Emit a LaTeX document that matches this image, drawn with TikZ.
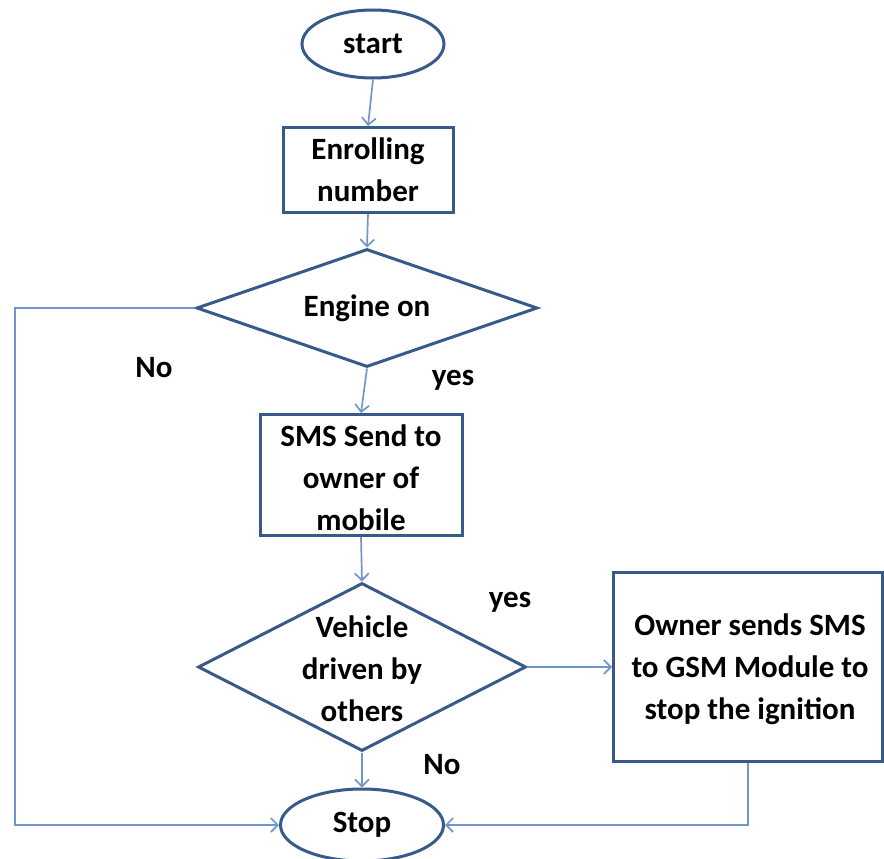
\documentclass[tikz,border=0pt]{standalone}
\usepackage{fontspec}
\setmainfont{Carlito}
\usepackage{tikz}
\usetikzlibrary{shapes.geometric, arrows.meta}
\usepackage{xcolor}

\definecolor{shapeblue}{HTML}{375A89}
\definecolor{linkblue}{HTML}{7196CB}

\begin{document}
\begin{tikzpicture}[x=1pt, y=-1pt,
	txt/.style={font=\fontsize{31}{42}\selectfont\bfseries, align=center, inner sep=0pt},
	term/.style={draw=shapeblue, line width=3pt, ellipse, inner sep=0pt},
	proc/.style={draw=shapeblue, line width=3pt, rectangle, inner sep=0pt},
	decision/.style={draw=shapeblue, line width=3pt, diamond, inner sep=0pt},
	flow/.style={draw=linkblue, line width=1.7pt, -{Straight Barb[length=7pt, width=14pt]}}]
	\useasboundingbox (0,0) rectangle (884,859);
	% terminals and boxes
	\node[term, minimum width=142pt, minimum height=68pt] (start) at (373,44) {};
	\node[txt] (start-t) at (start) {start};
	\node[proc, minimum width=170pt, minimum height=85pt] (enroll) at (368,170) {};
	\node[txt] (enroll-t) at (enroll) {Enrolling\\number};
	\node[decision, minimum width=341pt, minimum height=118pt] (engine) at (367,308) {};
	\node[txt] (engine-t) at (engine) {Engine on};
	\node[proc, minimum width=202pt, minimum height=121pt] (sms) at (361,475) {};
	\node[txt] (sms-t) at (361,478) {SMS Send to\\owner of\\mobile};
	\node[decision, minimum width=328pt, minimum height=168pt] (vehicle) at (362,667) {};
	\node[txt] (vehicle-t) at (362,669) {Vehicle\\driven by\\others};
	\node[proc, minimum width=269pt, minimum height=189pt] (owner) at (748,667) {};
	\node[txt] (owner-t) at (750,669) {Owner sends SMS\\to GSM Module to\\stop the ignition};
	\node[term, minimum width=163pt, minimum height=72pt] (stop) at (362,825) {};
	\node[txt] (stop-t) at (stop) {Stop};
	% branch labels
	\node[txt] (no1) at (154,368) {No};
	\node[txt] (yes1) at (453,380) {yes};
	\node[txt] (yes2) at (510,602) {yes};
	\node[txt] (no2) at (442,765) {No};
	% connectors
	\coordinate (corner) at (15,825);
	\draw[flow] (start.south) -- (enroll.north);
	\draw[flow] (enroll.south) -- (engine.north);
	\draw[flow] (engine.south) -- (sms.north);
	\draw[flow] (engine.west) -| (corner) -- (stop.west);
	\draw[flow] (sms.south) -- (vehicle.north);
	\draw[flow] (vehicle.south) -- (stop.north);
	\draw[flow] (vehicle.east) -- (owner.west);
	\draw[flow] (owner.south) |- (stop.east);
\end{tikzpicture}
\end{document}
